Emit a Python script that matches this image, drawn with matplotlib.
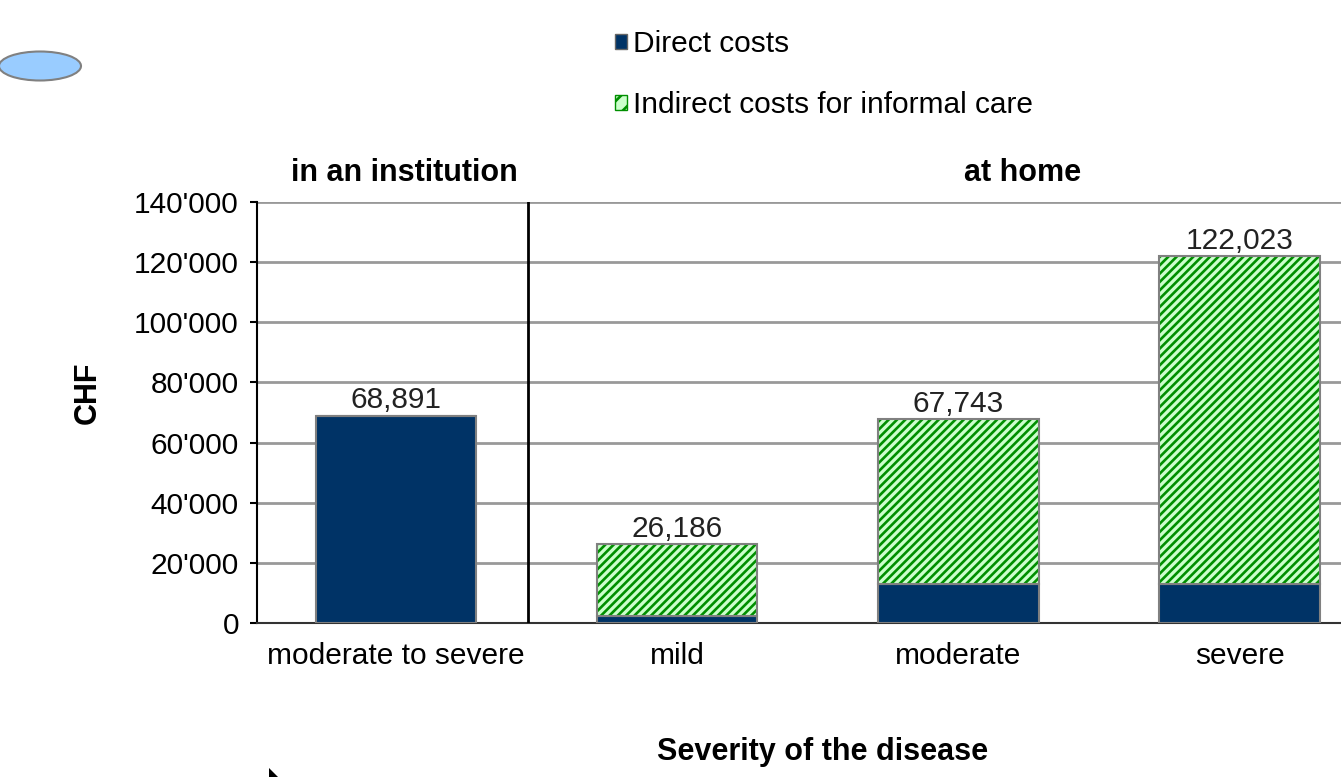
import numpy as np
import matplotlib
matplotlib.use('Agg')
import matplotlib.pyplot as plt
from matplotlib.patches import Patch, Ellipse, Polygon
from matplotlib.ticker import FuncFormatter

plt.rcParams['font.family'] = ['Liberation Sans', 'DejaVu Sans']
plt.rcParams['hatch.linewidth'] = 1.9

categories = ['moderate to severe', 'mild', 'moderate', 'severe']
totals = np.array([68891, 26186, 67743, 122023])
direct = np.array([68891, 2200, 13000, 13000])
indirect = totals - direct
group_labels = ['in an institution', 'at home']
series_labels = ['Direct costs', 'Indirect costs for informal care']

navy = '#003366'
light_green = '#ccffcc'
green = '#008f00'
edge = '#808080'
fs = 21.5

fig = plt.figure(figsize=(13.41, 7.77), dpi=100)
# axes runs past the right edge of the figure, as in the original slide
ax = fig.add_axes([257/1341, 1-623/777, 1258/1341, 421/777])

x = np.arange(len(categories))
w = 0.57
ax.bar(x, direct, w, color=navy, edgecolor=edge, linewidth=1.5, zorder=3)
ax.bar(x, indirect, w, bottom=direct, color=light_green, edgecolor=edge, linewidth=0, zorder=3)
ax.bar(x, indirect, w, bottom=direct, fill=False, edgecolor=green, linewidth=0, hatch='////', zorder=4)
ax.bar(x, indirect, w, bottom=direct, fill=False, edgecolor=edge, linewidth=1.5, zorder=5)

for xi, t in zip(x, totals):
    ax.annotate(f'{t:,}', (xi, t), xytext=(0, 1), textcoords='offset points',
                ha='center', va='bottom', fontsize=fs, color='#222222')

ax.set_xlim(-0.495, 3.98)
ax.set_ylim(0, 140000)
ax.set_yticks(np.arange(0, 140001, 20000))
ax.yaxis.set_major_formatter(FuncFormatter(lambda v, p: f'{v:,.0f}'.replace(',', "'")))
ax.set_xticks(x)
ax.set_xticklabels(categories)
ax.tick_params(axis='x', length=0, pad=14, labelsize=fs)
ax.tick_params(axis='y', length=5, width=1.5, pad=8, labelsize=fs, colors='black')

ax.yaxis.grid(True, color='#999999', linewidth=2, zorder=0)
ax.set_axisbelow(True)
for s in ['top', 'right']:
    ax.spines[s].set_visible(False)
ax.spines['left'].set_linewidth(1.5)
ax.spines['bottom'].set_linewidth(1.5)
ax.spines['bottom'].set_color('#333333')
ax.axvline(0.47, color='black', linewidth=2, zorder=6)

ax.text(0.03, 1.07, group_labels[0], transform=ax.get_xaxis_transform(),
        ha='center', va='center', fontsize=22, fontweight='bold')
ax.text(2.23, 1.07, group_labels[1], transform=ax.get_xaxis_transform(),
        ha='center', va='center', fontsize=22, fontweight='bold')

fig.text(88/1341, 1-393/777, 'CHF', rotation=90, ha='center', va='center',
         fontsize=22, fontweight='bold')
fig.text(823/1341, 1-752/777, 'Severity of the disease', ha='center', va='center',
         fontsize=22, fontweight='bold')

handles = [Patch(facecolor=navy, edgecolor='#666666'),
           Patch(facecolor=light_green, edgecolor=green, hatch='//')]
fig.legend(handles, series_labels, loc='upper left', bbox_to_anchor=(603/1341, 1-18/777),
           frameon=False, fontsize=fs, handlelength=0.4, handleheight=0.4,
           handletextpad=0.2, labelspacing=1.1, borderaxespad=0)

# decorations from the slide
fig.add_artist(Ellipse((40/1341, 1-66/777), 82/1341, 29/777, transform=fig.transFigure,
                       facecolor='#99ccff', edgecolor='#808080', linewidth=1.5))
fig.add_artist(Polygon([(269/1341, 1-768/777), (269/1341, 1-777/777), (278/1341, 1-777/777)],
                       closed=True, transform=fig.transFigure, facecolor='black', edgecolor='none'))

fig.savefig('out.png', dpi=100)
